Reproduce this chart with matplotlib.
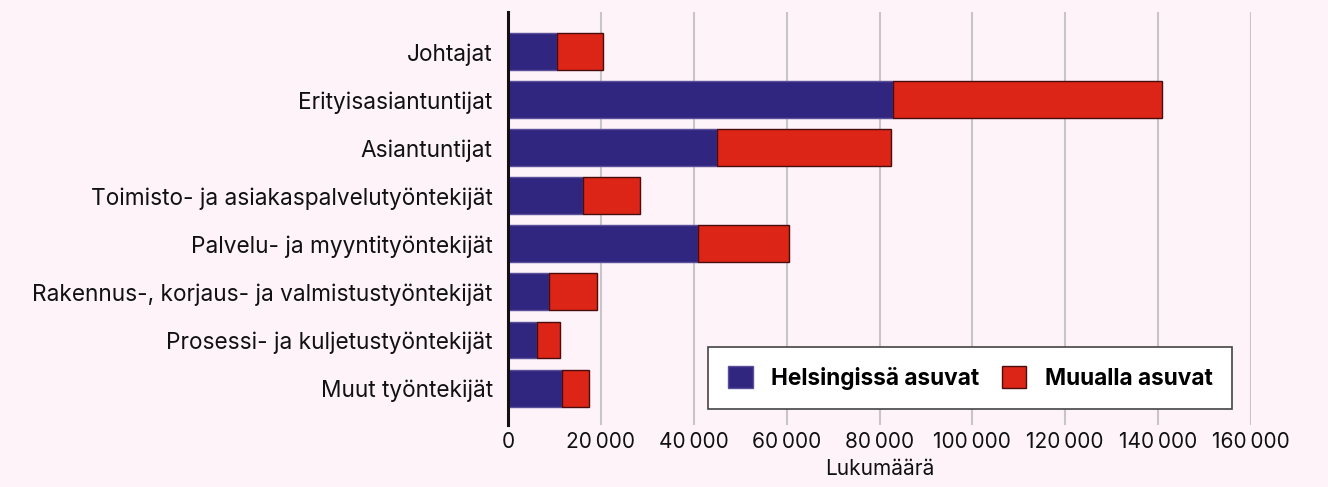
import matplotlib.pyplot as plt
from matplotlib.ticker import FuncFormatter

plt.rcParams['font.family'] = ['Inter', 'DejaVu Sans']

# occupational groups, top to bottom
categories = [
    "Johtajat",
    "Erityisasiantuntijat",
    "Asiantuntijat",
    "Toimisto- ja asiakaspalvelutyöntekijät",
    "Palvelu- ja myyntityöntekijät",
    "Rakennus-, korjaus- ja valmistustyöntekijät",
    "Prosessi- ja kuljetustyöntekijät",
    "Muut työntekijät",
]
helsinki = [10500, 82800, 45100, 16100, 41000, 8800, 6200, 11600]
elsewhere = [9900, 58100, 37300, 12300, 19500, 10400, 4900, 5900]
series_labels = ["Helsingissä asuvat", "Muualla asuvat"]
x_ticks = [0, 20000, 40000, 60000, 80000, 100000, 120000, 140000, 160000]

bg = "#fdf3f8"
blue = "#31267f"
red = "#dc2516"

fig = plt.figure(figsize=(13.28, 4.87), dpi=100, facecolor=bg)
ax = fig.add_axes([508 / 1328, 1 - 425 / 487, (1251 - 508) / 1328, (425 - 12) / 487])
ax.set_facecolor(bg)

y = list(range(len(categories)))
ax.barh(y, helsinki, height=0.77, color=blue, edgecolor="#5a4f9a", linewidth=1,
        label=series_labels[0], zorder=3)
ax.barh(y, elsewhere, left=helsinki, height=0.77, color=red, edgecolor="#4a0d0d",
        linewidth=1, label=series_labels[1], zorder=3)

ax.set_ylim(7.77, -0.83)
ax.set_xlim(0, 160000)
ax.set_yticks(y)
ax.set_yticklabels(categories, fontsize=16.3, color="#111111")
ax.set_xticks(x_ticks)
ax.xaxis.set_major_formatter(FuncFormatter(lambda v, p: f"{int(v):,}".replace(",", "\u2009")))
ax.tick_params(axis="x", labelsize=15, length=0, pad=5, colors="#111111")
ax.tick_params(axis="y", length=0, pad=11)
ax.grid(axis="x", color="#c8c4c8", linewidth=1.5, zorder=0)
for s in ["top", "right", "bottom"]:
    ax.spines[s].set_visible(False)
ax.spines["left"].set_linewidth(2.2)
ax.spines["left"].set_color("#111111")
ax.spines["left"].set_zorder(4)
ax.set_xlabel("Lukumäärä", fontsize=15, labelpad=5, color="#111111")

leg = ax.legend(loc="lower right", bbox_to_anchor=(0.974, 0.039), ncol=2, frameon=True,
                fancybox=False, edgecolor="#444444", facecolor="white", framealpha=1,
                prop={"weight": "bold", "size": 16.3}, handlelength=1.1, handleheight=1.1,
                borderpad=0.85, columnspacing=1.0, handletextpad=0.8, borderaxespad=0)
leg.get_frame().set_linewidth(1.2)

fig.savefig("out.png", dpi=100, facecolor=bg)
